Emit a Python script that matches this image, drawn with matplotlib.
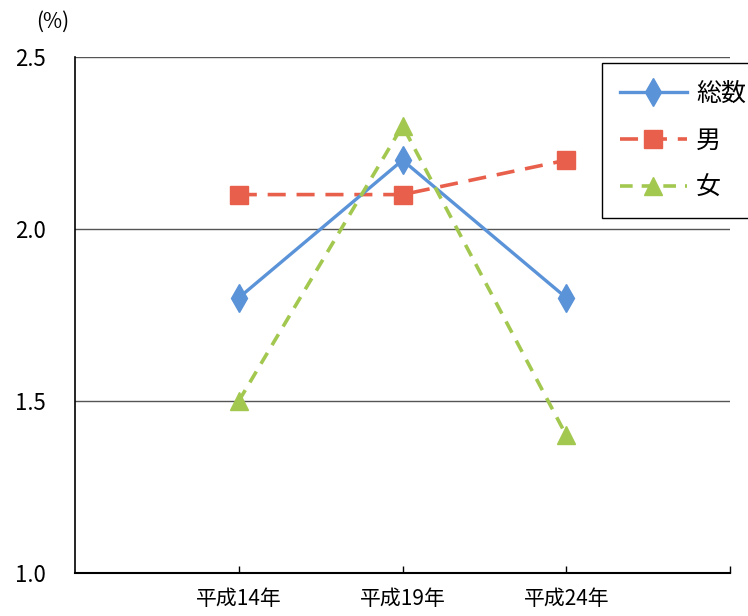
import matplotlib.pyplot as plt
import numpy as np

plt.rcParams['font.family'] = ['Noto Sans CJK JP', 'DejaVu Sans']

years = ["平成14年", "平成19年", "平成24年"]
total = [1.8, 2.2, 1.8]     # 総数
male = [2.1, 2.1, 2.2]      # 男
female = [1.5, 2.3, 1.4]    # 女
yticks = [1.0, 1.5, 2.0, 2.5]

x = np.arange(1, len(years) + 1)

fig = plt.figure(figsize=(7.48, 6.16), dpi=100)
ax = fig.add_axes([0.1003, 0.0698, 0.8757, 0.8377])

# 目盛線
for y in yticks[1:]:
    ax.axhline(y, color="#555555", linewidth=1.0, zorder=1)

ax.plot(x, total, color="#5b93d8", linewidth=2.4, marker="d", markersize=14,
        label="総数", zorder=4)
ax.plot(x, male, color="#e8604c", linewidth=2.6, linestyle=(0, (5, 3)),
        marker="s", markersize=13, label="男", zorder=3)
ax.plot(x, female, color="#a3c850", linewidth=2.6, linestyle=(0, (3.5, 2.5)),
        marker="^", markersize=13, label="女", zorder=5)

ax.set_xlim(0, 4)
ax.set_ylim(1.0, 2.5)
ax.set_yticks(yticks)
ax.set_yticklabels([f"{v:.1f}" for v in yticks])
ax.set_xticks([1, 2, 3, 4])
ax.set_xticklabels(years + [""])
ax.tick_params(axis="y", length=0, pad=21, labelsize=16)
ax.tick_params(axis="x", direction="in", length=5, width=1, pad=11, labelsize=15)

ax.spines["top"].set_visible(False)
ax.spines["right"].set_visible(False)
ax.spines["left"].set_linewidth(1.2)
ax.spines["bottom"].set_linewidth(1.5)

fig.text(0.048, 0.965, "(%)", fontsize=15, va="center")

leg = ax.legend(loc="upper left", bbox_to_anchor=(0.805, 0.898),
                bbox_transform=fig.transFigure, fontsize=18, frameon=True,
                fancybox=False, edgecolor="black", framealpha=1,
                handlelength=2.7, handletextpad=0.35, labelspacing=0.85,
                borderpad=0.7, borderaxespad=0)
leg.get_frame().set_linewidth(1.0)

fig.savefig("out.png", dpi=100)
